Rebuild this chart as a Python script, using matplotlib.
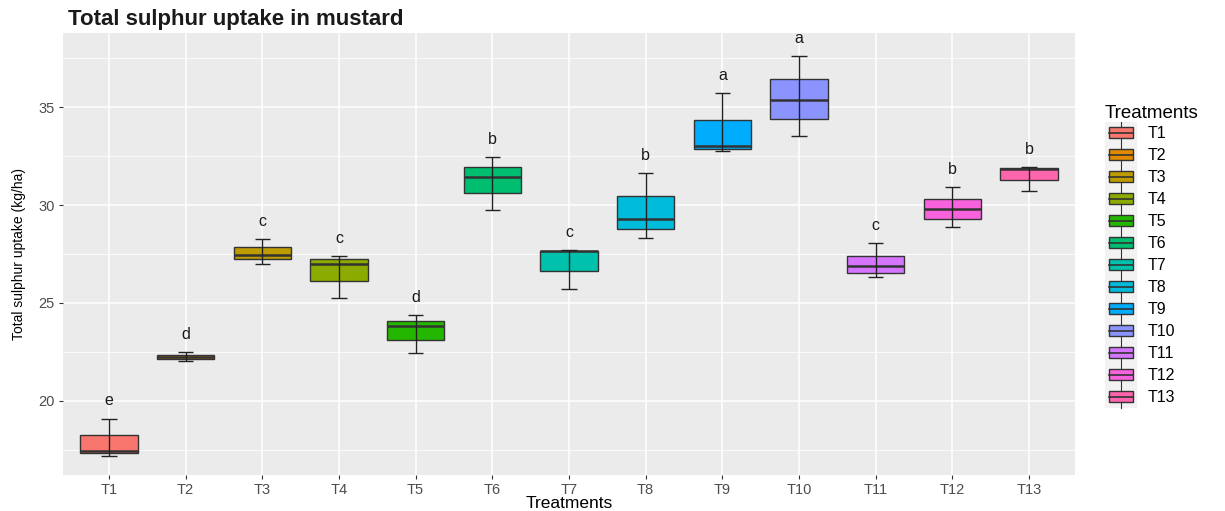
import matplotlib.pyplot as plt
from matplotlib.patches import Patch, Rectangle
from matplotlib.lines import Line2D
from matplotlib.legend_handler import HandlerBase
from matplotlib.ticker import MultipleLocator

plt.rcParams['font.family'] = ['Liberation Sans', 'DejaVu Sans']

# Data
treatments = ["T1", "T2", "T3", "T4", "T5", "T6", "T7", "T8", "T9", "T10", "T11", "T12", "T13"]
q1 = [17.33, 22.14, 27.24, 26.10, 23.13, 30.60, 26.65, 28.78, 32.84, 34.40, 26.55, 29.27, 31.28]
median = [17.46, 22.26, 27.45, 27.00, 23.83, 31.44, 27.65, 29.30, 33.01, 35.36, 26.89, 29.78, 31.84]
q3 = [18.27, 22.36, 27.86, 27.23, 24.10, 31.95, 27.65, 30.44, 34.34, 36.43, 27.41, 30.29, 31.87]
whisker_lo = [17.19, 22.06, 26.97, 25.24, 22.46, 29.76, 25.71, 28.30, 32.74, 33.52, 26.31, 28.88, 30.73]
whisker_hi = [19.10, 22.50, 28.25, 27.41, 24.40, 32.43, 27.70, 31.62, 35.70, 37.60, 28.05, 30.93, 31.95]
letters = ["e", "d", "c", "c", "d", "b", "c", "b", "a", "a", "c", "b", "b"]
colors = ["#F8766D", "#E18A00", "#BE9C00", "#8CAB00", "#24B700", "#00BE70", "#00C1AB",
          "#00BBDA", "#00ACFC", "#8B93FF", "#D575FE", "#F962DD", "#FF65AC"]

fig = plt.figure(figsize=(12.25, 5.11), dpi=100)
ax = fig.add_axes([63 / 1225, 1 - 475 / 511, (1075 - 63) / 1225, (475 - 33) / 511])

x = list(range(1, len(treatments) + 1))
box_w = 0.75
cap_w = 0.2

# boxes
heights = [b - a for a, b in zip(q1, q3)]
ax.bar(x, heights, bottom=q1, width=box_w, color=colors, edgecolor='#333333',
       linewidth=1.0, zorder=2)
ax.hlines(median, [i - box_w / 2 for i in x], [i + box_w / 2 for i in x],
          colors='#333333', linewidth=1.8, zorder=3)

# error-bar style whiskers drawn over the boxes
ax.vlines(x, whisker_lo, whisker_hi, colors='#222222', linewidth=1.0, zorder=4)
ax.hlines(whisker_lo, [i - cap_w / 2 for i in x], [i + cap_w / 2 for i in x],
          colors='#222222', linewidth=1.0, zorder=4)
ax.hlines(whisker_hi, [i - cap_w / 2 for i in x], [i + cap_w / 2 for i in x],
          colors='#222222', linewidth=1.0, zorder=4)

# significance letters
for xi, top, lab in zip(x, whisker_hi, letters):
    ax.text(xi, top + 0.9, lab, ha='center', va='center', fontsize=11.5, color='#1a1a1a')

# ggplot-like panel
ax.set_facecolor('#EBEBEB')
ax.set_xlim(0.4, 13.6)
ax.set_ylim(16.22, 38.78)
ax.set_xticks(x)
ax.set_xticklabels(treatments)
ax.yaxis.set_major_locator(MultipleLocator(5))
ax.yaxis.set_minor_locator(MultipleLocator(2.5))
ax.grid(which='major', color='white', linewidth=1.1)
ax.grid(which='minor', axis='y', color='white', linewidth=0.55)
ax.set_axisbelow(True)
for s in ax.spines.values():
    s.set_visible(False)
ax.tick_params(which='major', length=3, color='#333333', labelcolor='#4D4D4D',
               labelsize=10.5, pad=3)
ax.tick_params(which='minor', length=0)

ax.set_xlabel('Treatments', fontsize=12.5, color='black', labelpad=-1)
ax.set_ylabel('Total sulphur uptake (kg/ha)', fontsize=10, color='black', labelpad=9)
fig.text(68 / 1225, 1 - 19 / 511, 'Total sulphur uptake in mustard', fontsize=16,
         fontweight='bold', color='#1a1a1a', ha='left', va='center')


class BoxKey(HandlerBase):
    def create_artists(self, legend, orig_handle, xdescent, ydescent, width, height,
                       fontsize, trans):
        x0, y0 = -xdescent, -ydescent
        bg = Rectangle((x0, y0), width, height, facecolor='#F2F2F2', edgecolor='none',
                       transform=trans)
        cx = x0 + width / 2
        wl = Line2D([cx, cx], [y0, y0 + height], color='#333333', linewidth=0.8,
                    transform=trans)
        bx = Rectangle((x0 + width * 0.11, y0 + height * 0.25), width * 0.78, height * 0.5,
                       facecolor=orig_handle.get_facecolor(), edgecolor='#333333',
                       linewidth=1.0, transform=trans)
        md = Line2D([x0 + width * 0.11, x0 + width * 0.89], [y0 + height / 2] * 2,
                    color='#333333', linewidth=1.2, transform=trans)
        return [bg, wl, bx, md]


handles = [Patch(facecolor=c) for c in colors]
leg = fig.legend(handles, treatments, handler_map={Patch: BoxKey()},
                 loc='upper left', bbox_to_anchor=(1105 / 1225, 1 - 105 / 511),
                 bbox_transform=fig.transFigure, frameon=False, title='Treatments',
                 fontsize=11.5, title_fontsize=13.5, handlelength=2.0, handleheight=1.74,
                 labelspacing=0.0, handletextpad=0.69, borderpad=0, borderaxespad=0,
                 alignment='left')

plt.savefig('out.png', dpi=100)
